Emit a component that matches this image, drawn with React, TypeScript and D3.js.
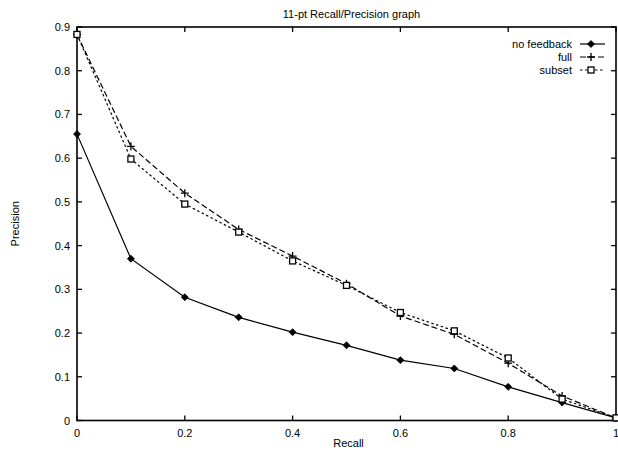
import React from "react";
import * as d3 from "d3";

const recall = [0, 0.1, 0.2, 0.3, 0.4, 0.5, 0.6, 0.7, 0.8, 0.9, 1.0];
const noFeedback = [0.655, 0.37, 0.282, 0.236, 0.202, 0.172, 0.138, 0.119, 0.077, 0.041, 0.006];
const full = [0.883, 0.627, 0.52, 0.437, 0.376, 0.313, 0.239, 0.197, 0.131, 0.056, 0.006];
const subset = [0.883, 0.598, 0.495, 0.431, 0.365, 0.309, 0.247, 0.205, 0.143, 0.049, 0.006];
const xTicks = [0, 0.2, 0.4, 0.6, 0.8, 1];
const yTicks = [0, 0.1, 0.2, 0.3, 0.4, 0.5, 0.6, 0.7, 0.8, 0.9];
const seriesNames = ["no feedback", "full", "subset"];

const W = 618, H = 452;
const L = 77, R = 616, T = 27, B = 420.5;
const FONT = "'Liberation Sans', Arial, sans-serif";

export default function App() {
  const x = d3.scaleLinear().domain([0, 1]).range([L, R]);
  const y = d3.scaleLinear().domain([0, 0.9]).range([B, T]);
  const line = d3.line<number>().x((_, i) => x(recall[i])).y((d) => y(d));
  const series = [
    { name: seriesNames[0], data: noFeedback, dash: "none", marker: "diamond" },
    { name: seriesNames[1], data: full, dash: "6,3", marker: "plus" },
    { name: seriesNames[2], data: subset, dash: "2.5,2.5", marker: "square" },
  ];
  const marker = (type: string, cx: number, cy: number, key: any) => {
    if (type === "diamond")
      return <path key={key} d={`M${cx},${cy - 3.5}L${cx + 3.5},${cy}L${cx},${cy + 3.5}L${cx - 3.5},${cy}Z`} fill="#000" stroke="#000" strokeWidth={0.8} />;
    if (type === "plus")
      return <path key={key} d={`M${cx - 4},${cy}H${cx + 4}M${cx},${cy - 4}V${cy + 4}`} stroke="#000" strokeWidth={1.3} fill="none" />;
    return <rect key={key} x={cx - 3} y={cy - 3} width={6} height={6} fill="#fff" stroke="#000" strokeWidth={1.3} />;
  };
  const legendY = [44, 57, 70];
  return (
    <svg width={W} height={H} style={{ position: "absolute", left: 0, top: 0, background: "#fff" }} fontFamily={FONT}>
      <rect x={0} y={0} width={W} height={H} fill="#fff" />
      <text x={(L + R) / 2 + 5} y={18} textAnchor="middle" fontSize={11}>11-pt Recall/Precision graph</text>
      {/* ticks */}
      {xTicks.map((t) => (
        <g key={"xt" + t}>
          <line x1={x(t)} x2={x(t)} y1={B} y2={B - 5} stroke="#000" strokeWidth={1.3} />
          <line x1={x(t)} x2={x(t)} y1={T} y2={T + 5} stroke="#000" strokeWidth={1.3} />
          <text x={x(t)} y={437} textAnchor="middle" fontSize={11}>{String(t)}</text>
        </g>
      ))}
      {yTicks.map((t) => (
        <g key={"yt" + t}>
          <line x1={L} x2={L + 5} y1={y(t)} y2={y(t)} stroke="#000" strokeWidth={1.3} />
          <line x1={R} x2={R - 5} y1={y(t)} y2={y(t)} stroke="#000" strokeWidth={1.3} />
          <text x={70} y={y(t) + 4} textAnchor="end" fontSize={11}>{String(t)}</text>
        </g>
      ))}
      <rect x={L} y={T} width={R - L} height={B - T} fill="none" stroke="#000" strokeWidth={1.6} />
      <text x={(L + R) / 2 + 2} y={447} textAnchor="middle" fontSize={11}>Recall</text>
      <text transform={`translate(19,${(T + B) / 2}) rotate(-90)`} textAnchor="middle" fontSize={11}>Precision</text>
      {series.map((s, si) => (
        <g key={s.name}>
          <path d={line(s.data) || ""} fill="none" stroke="#000" strokeWidth={1.2} strokeDasharray={s.dash} />
          {s.data.map((d, i) => marker(s.marker, x(recall[i]), y(d), i))}
          <text x={572} y={legendY[si] + 4} textAnchor="end" fontSize={11}>{s.name}</text>
          <line x1={580} x2={605} y1={legendY[si]} y2={legendY[si]} stroke="#000" strokeWidth={1.2} strokeDasharray={s.dash} />
          {marker(s.marker, 591, legendY[si], "lg")}
        </g>
      ))}
    </svg>
  );
}
